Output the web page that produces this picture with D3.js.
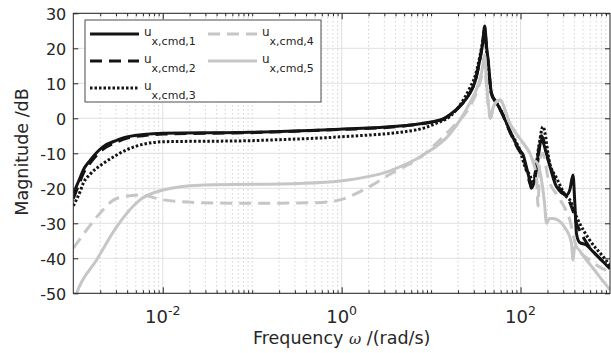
<!DOCTYPE html>
<html>
<head>
<meta charset="utf-8">
<script src="https://cdn.jsdelivr.net/npm/d3@7"></script>
<style>
body { margin: 0; background: #fff; }
svg { display: block; }
text { font-family: "DejaVu Sans", sans-serif; fill: #262626; }
</style>
</head>
<body>
<div id="chart"></div>
<script>
// frequencies in rad/s, magnitudes in dB
const freq1 = [0.001, 0.00119, 0.00129, 0.00154, 0.00216, 0.00305, 0.00395, 0.0101, 0.0942, 0.955, 4.10, 8.15, 13.6, 16.2, 22, 27.0, 31, 35.0, 37.5, 39.8, 41.5, 43.4, 47.3, 53.8, 63.7, 75.7, 97.9, 107, 116, 127, 132, 151, 171, 203, 252, 326, 355, 386, 404, 422, 458, 545, 646, 767, 1000];
const mag1 = [-21.5, -17, -14.8, -12, -8.1, -6.3, -5.3, -4.3, -4.0, -3.1, -2.3, -1.4, -0.2, 1.0, 4.0, 7.1, 10.5, 16.7, 21, 26.4, 21, 16.7, 7.1, 4.5, 1.0, -3.5, -9.1, -10.5, -13.8, -18, -20, -14.8, -6.2, -11.9, -19.5, -21.9, -20.5, -16.2, -24, -33, -35.5, -36.2, -38.1, -40, -43];

const freq2 = freq1;
const mag2 = [-23, -18, -15.8, -12.8, -8.8, -6.8, -5.7, -4.5, -4.1, -3.2, -2.4, -1.5, -0.3, 0.9, 4.0, 7.2, 10.5, 16.5, 21, 25.5, 20.5, 16, 7, 4.3, 0.8, -3.8, -9.5, -11, -14.5, -18.5, -19.5, -13.5, -5, -11.5, -18.5, -22.5, -24, -26.5, -28, -30, -32, -35.5, -38, -40, -42.5];

const freq3 = [0.001, 0.00119, 0.00129, 0.00154, 0.00216, 0.00305, 0.00395, 0.0101, 0.0942, 0.158, 0.955, 6.87, 11.5, 16.2, 22, 27.0, 31, 35.0, 37.5, 39.8, 41.5, 43.4, 47.3, 53.8, 63.7, 75.7, 97.9, 116, 127, 138, 160, 178, 212, 252, 326, 355, 422, 458, 593, 836, 1000];
const mag3 = [-25, -21, -18.6, -16, -12.9, -10.5, -9, -6.7, -6.4, -6.2, -5.3, -3.3, -1.4, 0.5, 4.5, 8.6, 12, 17.6, 21.5, 25, 20, 15.5, 7, 4.5, 1, -3.5, -9, -14.8, -16.2, -18.6, -8, -2.4, -12.9, -17, -22.4, -23.3, -28.1, -30, -34.8, -39.5, -42];

const freq4 = [0.001, 0.00141, 0.00199, 0.00305, 0.00556, 0.0101, 0.0261, 0.0942, 0.525, 0.955, 1.90, 3.46, 8.15, 13.6, 17.6, 27.0, 33, 36.6, 39.8, 41.5, 43.4, 46.1, 50, 58.6, 75.7, 107, 127, 138, 151, 157, 164, 178, 203, 274, 355, 422, 593, 1000];
const mag4 = [-37.1, -31.9, -27.1, -22.9, -21.9, -23.3, -24.1, -24.3, -24.1, -23.3, -20, -16, -10.5, -5.3, -2.4, 3.3, 8, 11.9, 16, 10, 4, 0, 3.5, 5.2, -1.4, -7.1, -10, -12.5, -17, -25, -12, -10, -17, -23, -29, -36.7, -40.5, -44];

const freq5 = [0.001, 0.00109, 0.00182, 0.00305, 0.00556, 0.0101, 0.0261, 0.341, 0.955, 3.46, 8.15, 16.2, 27.0, 33, 36.6, 39.8, 41.5, 43.4, 46.1, 50, 58.6, 75.7, 107, 127, 138, 151, 164, 185, 195, 212, 231, 326, 371, 386, 404, 545, 767, 1000];
const mag5 = [-53, -50, -40.5, -31, -23.3, -20.5, -19.1, -18.6, -17.9, -15, -10.5, -4.5, 4.3, 9, 12.9, 18, 11, 5, 0, 3.5, 5.2, -1.4, -7.1, -10, -12, -12.5, -15, -24, -30, -28.6, -28.6, -31.9, -35.7, -40.5, -36.7, -40.5, -45.3, -49];

const seriesNames = ["x,cmd,1", "x,cmd,2", "x,cmd,3", "x,cmd,4", "x,cmd,5"];
const xTickValues = [1e-2, 1e0, 1e2];
const xTickExponents = ["-2", "0", "2"];
const yTickValues = [-50, -40, -30, -20, -10, 0, 10, 20, 30];

const series = [
    { name: seriesNames[0], f: freq1, m: mag1, color: "#141414", dash: null, w: 3 },
    { name: seriesNames[1], f: freq2, m: mag2, color: "#141414", dash: "12,7", w: 3 },
    { name: seriesNames[2], f: freq3, m: mag3, color: "#141414", dash: "2.5,2", w: 3 },
    { name: seriesNames[3], f: freq4, m: mag4, color: "#c6c6c6", dash: "12,7", w: 3 },
    { name: seriesNames[4], f: freq5, m: mag5, color: "#c6c6c6", dash: null, w: 3 }
];

const margin = { top: 13.3, right: 1, bottom: 59.7, left: 73.3 };
const width = 611 - margin.left - margin.right;
const height = 353 - margin.top - margin.bottom;

const svg = d3.select("#chart")
    .append("svg")
    .attr("width", 611)
    .attr("height", 353);

const g = svg.append("g")
    .attr("transform", `translate(${margin.left},${margin.top})`);

const x = d3.scaleLog().domain([1e-3, 1e3]).range([0, width]);
const y = d3.scaleLinear().domain([-50, 30]).range([height, 0]);

// minor values: 2..9 of every decade plus the unlabeled decades
const minorValues = [];
for (let d = -3; d < 3; d++) {
    for (let k = 1; k <= 9; k++) {
        const v = k * Math.pow(10, d);
        if (v <= 1e-3 || xTickValues.some(t => Math.abs(t - v) / t < 1e-9)) continue;
        minorValues.push(v);
    }
}

// grid
g.append("g").selectAll("line")
    .data(minorValues).enter().append("line")
    .attr("x1", d => x(d)).attr("x2", d => x(d))
    .attr("y1", 0).attr("y2", height)
    .attr("stroke", "#bdbdbd").attr("stroke-width", 1)
    .attr("stroke-dasharray", "1,3");

g.append("g").selectAll("line")
    .data(xTickValues).enter().append("line")
    .attr("x1", d => x(d)).attr("x2", d => x(d))
    .attr("y1", 0).attr("y2", height)
    .attr("stroke", "#e0e0e0").attr("stroke-width", 1);

g.append("g").selectAll("line")
    .data(yTickValues).enter().append("line")
    .attr("x1", 0).attr("x2", width)
    .attr("y1", d => y(d)).attr("y2", d => y(d))
    .attr("stroke", "#e0e0e0").attr("stroke-width", 1);

// curves
g.append("clipPath").attr("id", "plot-clip")
    .append("rect").attr("width", width).attr("height", height);

const line = d3.line()
    .x(d => x(d[0]))
    .y(d => y(d[1]))
    .curve(d3.curveMonotoneX);

const plot = g.append("g").attr("clip-path", "url(#plot-clip)");
series.forEach(s => {
    plot.append("path")
        .attr("d", line(s.f.map((f, i) => [f, s.m[i]])))
        .attr("fill", "none")
        .attr("stroke", s.color)
        .attr("stroke-width", s.w)
        .attr("stroke-dasharray", s.dash)
        .attr("stroke-linejoin", "round");
});

// axes, ticks pointing inward
function styleAxis(sel) {
    sel.select(".domain").remove();
    sel.selectAll(".tick line").attr("stroke", "#262626");
}
g.append("g").attr("transform", `translate(0,${height})`)
    .call(d3.axisBottom(x).tickValues(xTickValues).tickSize(-6).tickFormat(""))
    .call(styleAxis);
g.append("g").attr("transform", `translate(0,${height})`)
    .call(d3.axisBottom(x).tickValues(minorValues).tickSize(-3).tickFormat(""))
    .call(styleAxis);
g.append("g")
    .call(d3.axisTop(x).tickValues(xTickValues).tickSize(-6).tickFormat(""))
    .call(styleAxis);
g.append("g")
    .call(d3.axisTop(x).tickValues(minorValues).tickSize(-3).tickFormat(""))
    .call(styleAxis);

const yAxis = g.append("g")
    .call(d3.axisLeft(y).tickValues(yTickValues).tickSize(-5).tickPadding(7).tickFormat(d => String(d)))
    .call(styleAxis);
yAxis.selectAll(".tick text")
    .attr("font-family", "DejaVu Sans")
    .attr("font-size", 16)
    .attr("fill", "#262626")
    .attr("dy", "0.38em");
g.append("g").attr("transform", `translate(${width},0)`)
    .call(d3.axisRight(y).tickValues(yTickValues).tickSize(-5).tickFormat(""))
    .call(styleAxis);

g.append("rect")
    .attr("width", width).attr("height", height)
    .attr("fill", "none").attr("stroke", "#262626").attr("stroke-width", 1);

// x tick labels as 10^n
const xLabels = g.append("g").selectAll("text")
    .data(xTickValues).enter().append("text")
    .attr("x", d => x(d))
    .attr("y", height + 30)
    .attr("text-anchor", "middle")
    .attr("font-size", 18);
xLabels.append("tspan").text("10");
xLabels.append("tspan")
    .attr("font-size", 12.5)
    .attr("dy", -8.5)
    .text((d, i) => xTickExponents[i]);

// axis titles
const xTitle = svg.append("text")
    .attr("x", margin.left + width / 2)
    .attr("y", 344)
    .attr("text-anchor", "middle")
    .attr("font-size", 17.5);
xTitle.append("tspan").text("Frequency ");
xTitle.append("tspan")
    .attr("font-family", "DejaVu Serif")
    .attr("font-style", "italic")
    .attr("font-size", 15)
    .text("ω");
xTitle.append("tspan").text(" /(rad/s)");

svg.append("text")
    .attr("transform", "translate(28,152) rotate(-90)")
    .attr("text-anchor", "middle")
    .attr("font-size", 17.5)
    .text("Magnitude /dB");

// legend
const legend = g.append("g").attr("transform", "translate(11.7,6.7)");
legend.append("rect")
    .attr("width", 236).attr("height", 82)
    .attr("fill", "#fff")
    .attr("stroke", "#4d4d4d").attr("stroke-width", 1);

const legendItems = legend.selectAll(".legend-item")
    .data(series).enter().append("g")
    .attr("class", "legend-item")
    .attr("transform", (d, i) => `translate(${i < 3 ? 0 : 118},${14 + (i < 3 ? i : i - 3) * 27})`);

legendItems.append("line")
    .attr("x1", 5).attr("x2", 54)
    .attr("stroke", d => d.color)
    .attr("stroke-width", d => d.w)
    .attr("stroke-dasharray", d => d.dash);

const legendText = legendItems.append("text")
    .attr("x", 59).attr("y", 2)
    .attr("font-size", 12);
legendText.append("tspan").text("u");
legendText.append("tspan")
    .attr("font-size", 11)
    .attr("dy", 9)
    .text(d => d.name);
</script>
</body>
</html>
